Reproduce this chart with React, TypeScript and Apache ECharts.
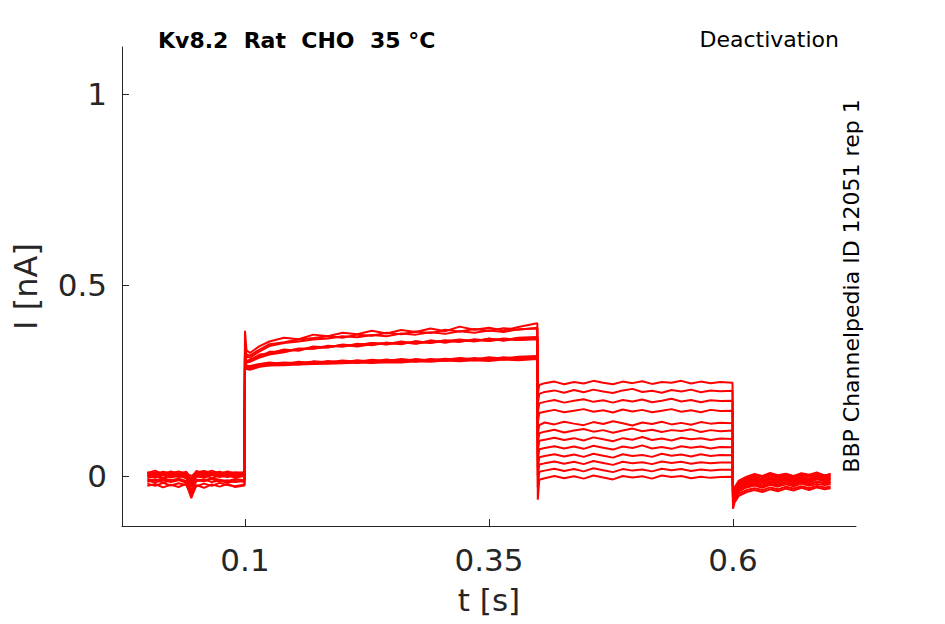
import React, { useEffect, useRef } from "react";
import * as echarts from "echarts";

// time samples (s) per protocol segment
const T_HOLD = [0, 0.008, 0.016, 0.024, 0.032, 0.04, 0.045, 0.05, 0.058, 0.066, 0.074, 0.082, 0.09, 0.0995];
const T_ACT = [0.1, 0.1015, 0.105, 0.115, 0.125, 0.14, 0.155, 0.17, 0.185, 0.2, 0.215, 0.23, 0.245, 0.26, 0.275, 0.29, 0.305, 0.32, 0.335, 0.35, 0.365, 0.38, 0.3995];
const T_DEACT = [0.4, 0.4015, 0.407, 0.417, 0.427, 0.437, 0.447, 0.457, 0.467, 0.477, 0.487, 0.497, 0.507, 0.517, 0.527, 0.537, 0.547, 0.557, 0.567, 0.577, 0.587, 0.5995];
const T_TAIL = [0.6, 0.6015, 0.606, 0.614, 0.622, 0.63, 0.638, 0.646, 0.654, 0.662, 0.67, 0.678, 0.686, 0.694, 0.7];

// currents in pA (x 0.001 nA), one row per sweep
const HOLD = [
  [6, 2, 8, 3, 7, 1, -12, 4, 9, 3, 6, 2, 8, 5],
  [-4, 1, -6, 2, -3, 0, -20, -2, 3, -5, 1, -3, 2, -1],
  [8, 14, 5, 12, 6, 11, -8, 13, 7, 14, 6, 12, 7, 10],
  [-15, -10, -17, -12, -9, -16, -45, -11, -14, -8, -15, -11, -16, -12],
  [2, -3, 4, -1, 5, -2, -30, 3, -2, 4, 0, 5, -1, 2],
  [-20, -26, -18, -25, -19, -24, -52, -27, -20, -26, -18, -24, -27, -22],
  [10, 5, 11, 7, 12, 6, 0, 9, 13, 8, 11, 6, 10, 8],
  [-8, -12, -6, -11, -7, -13, -38, -9, -12, -6, -10, -14, -8, -11],
  [4, 9, 3, 8, 2, 7, -15, 6, 1, 8, 4, 9, 3, 6],
  [-26, -21, -30, -23, -29, -20, -58, -24, -31, -22, -28, -21, -29, -25],
  [0, -5, 2, -4, 1, -6, -25, -1, -5, 3, -3, 1, -4, 0],
  [-12, -17, -10, -16, -11, -18, -42, -14, -9, -16, -12, -18, -13, -15],
];

const ACT = [
  [380, 330, 322, 340, 352, 362, 358, 370, 366, 375, 371, 380, 373, 382, 377, 386, 379, 391, 383, 388, 381, 390, 400],
  [330, 302, 300, 316, 320, 331, 328, 339, 336, 344, 340, 348, 344, 350, 346, 355, 349, 356, 352, 360, 354, 361, 362],
  [325, 298, 305, 312, 325, 326, 334, 333, 341, 338, 346, 342, 349, 345, 353, 348, 354, 351, 358, 354, 360, 356, 360],
  [315, 285, 282, 291, 290, 296, 292, 299, 295, 300, 296, 303, 298, 304, 299, 306, 301, 307, 303, 309, 305, 310, 312],
  [345, 318, 315, 331, 345, 350, 357, 361, 366, 362, 370, 367, 375, 371, 378, 374, 383, 378, 385, 380, 387, 383, 388],
  [320, 300, 303, 318, 321, 330, 330, 337, 338, 342, 343, 348, 345, 352, 347, 351, 353, 357, 353, 359, 355, 362, 364],
  [312, 288, 288, 293, 297, 293, 299, 295, 301, 297, 303, 299, 305, 300, 306, 302, 307, 304, 309, 305, 311, 307, 310],
  [310, 282, 280, 287, 292, 291, 295, 294, 298, 296, 299, 298, 301, 300, 302, 301, 304, 303, 305, 304, 307, 305, 308],
  [335, 312, 310, 326, 340, 348, 352, 357, 360, 366, 363, 369, 366, 373, 370, 376, 372, 379, 375, 381, 377, 384, 386],
  [318, 296, 299, 310, 318, 324, 332, 334, 337, 343, 339, 345, 349, 346, 352, 349, 355, 352, 356, 353, 358, 356, 358],
  [308, 280, 278, 286, 289, 290, 292, 293, 294, 295, 297, 296, 298, 297, 300, 299, 302, 300, 303, 301, 305, 303, 306],
  [305, 284, 286, 292, 294, 297, 295, 300, 298, 302, 299, 304, 301, 306, 302, 305, 304, 309, 305, 311, 307, 312, 314],
];

const DEACT = [
  [215, 238, 243, 247, 240, 246, 242, 249, 244, 240, 247, 243, 248, 241, 246, 244, 249, 242, 247, 243, 246, 244],
  [190, 215, 220, 224, 218, 225, 219, 226, 221, 217, 224, 228, 220, 223, 218, 225, 221, 226, 219, 224, 222, 223],
  [165, 190, 194, 199, 192, 197, 201, 194, 198, 192, 199, 195, 200, 193, 197, 202, 195, 199, 193, 198, 196, 197],
  [140, 165, 168, 173, 167, 171, 175, 168, 172, 166, 174, 169, 173, 167, 171, 175, 168, 172, 167, 173, 170, 171],
  [108, 133, 140, 135, 142, 137, 133, 141, 136, 143, 138, 132, 140, 136, 142, 135, 139, 134, 141, 137, 139, 138],
  [85, 112, 116, 121, 114, 119, 123, 116, 120, 113, 119, 124, 117, 121, 115, 120, 118, 122, 115, 120, 117, 119],
  [65, 92, 95, 100, 94, 99, 93, 101, 96, 91, 99, 95, 102, 94, 98, 93, 100, 96, 99, 94, 98, 97],
  [40, 70, 73, 78, 72, 77, 71, 79, 74, 69, 77, 73, 80, 72, 76, 71, 78, 74, 77, 72, 76, 75],
  [20, 49, 52, 57, 51, 56, 50, 58, 53, 48, 57, 52, 55, 50, 58, 53, 56, 51, 57, 52, 55, 54],
  [0, 30, 33, 38, 32, 37, 31, 39, 34, 29, 37, 33, 36, 31, 38, 34, 37, 32, 36, 33, 35, 35],
  [-30, 11, 14, 19, 13, 18, 12, 20, 15, 10, 18, 14, 17, 12, 19, 15, 18, 13, 17, 14, 16, 16],
  [-62, -10, -6, 0, -6, -1, -7, 1, -4, -9, 0, -4, -1, -7, 1, -3, 0, -6, -2, -5, -3, -2],
];

const TAIL = [
  [-45, -30, -12, -2, 5, 0, 8, 2, 6, -1, 7, 3, 9, 1, 6],
  [-55, -38, -18, -8, -2, -7, 1, -5, 2, -4, 3, -2, 4, -3, 1],
  [-50, -35, -15, -5, 2, -3, 4, -2, 5, 0, 6, -1, 5, 2, 4],
  [-70, -52, -34, -24, -19, -25, -17, -22, -16, -21, -14, -20, -15, -18, -16],
  [-62, -45, -27, -17, -11, -16, -9, -14, -8, -13, -7, -12, -6, -10, -8],
  [-75, -58, -40, -30, -25, -31, -23, -28, -22, -27, -20, -26, -21, -24, -22],
  [-58, -42, -22, -12, -6, -11, -4, -9, -2, -8, -1, -7, 0, -5, -3],
  [-80, -64, -46, -37, -32, -37, -30, -35, -28, -33, -27, -32, -26, -30, -28],
  [-60, -44, -25, -15, -10, -14, -7, -12, -5, -11, -4, -10, -3, -8, -6],
  [-86, -70, -52, -42, -37, -42, -35, -40, -33, -38, -31, -37, -30, -35, -32],
  [-72, -56, -37, -27, -22, -27, -19, -25, -17, -23, -16, -22, -15, -20, -18],
  [-66, -50, -31, -21, -15, -20, -13, -18, -11, -17, -10, -16, -9, -14, -12],
];

const X_TICKS = [0.1, 0.35, 0.6];
const Y_TICKS = [0, 0.5, 1];
const TITLE = "Kv8.2  Rat  CHO  35 °C";
const PROTOCOL = "Deactivation";
const SIDE_NOTE = "BBP Channelpedia ID 12051 rep 1";

const FONT = '"DejaVu Sans", "Noto Sans", sans-serif';
const AXIS_COLOR = "#262626";

export default function App() {
  const ref = useRef<HTMLDivElement>(null);

  useEffect(() => {
    const chart = echarts.init(ref.current!, null, { renderer: "svg" });
    const T = [...T_HOLD, ...T_ACT, ...T_DEACT, ...T_TAIL];
    const series = HOLD.map((_, k) => {
      const Y = [...HOLD[k], ...ACT[k], ...DEACT[k], ...TAIL[k]];
      return {
        type: "line",
        data: T.map((t, i) => [t, Y[i] / 1000]),
        showSymbol: false,
        symbol: "none",
        silent: true,
        lineStyle: { color: "#ff0000", width: 2 },
        z: 2,
      };
    });

    chart.setOption({
      animation: false,
      textStyle: { fontFamily: FONT },
      grid: { left: 122, top: 47, width: 734, height: 479, containLabel: false },
      xAxis: {
        type: "value",
        min: -0.026,
        max: 0.726,
        name: "t [s]",
        nameLocation: "middle",
        nameGap: 58,
        nameTextStyle: { fontSize: 31, color: AXIS_COLOR, fontFamily: FONT },
        axisLine: { show: true, onZero: false, lineStyle: { color: AXIS_COLOR, width: 1 } },
        axisTick: { show: true, inside: true, length: 7, customValues: X_TICKS, lineStyle: { color: AXIS_COLOR } },
        axisLabel: {
          customValues: X_TICKS,
          fontSize: 31,
          color: AXIS_COLOR,
          fontFamily: FONT,
          margin: 18,
          formatter: (v: number) => String(v),
        },
        splitLine: { show: false },
      },
      yAxis: {
        type: "value",
        min: -0.131,
        max: 1.123,
        name: "I [nA]",
        nameLocation: "middle",
        nameGap: 80,
        nameRotate: 90,
        nameTextStyle: { fontSize: 32, color: AXIS_COLOR, fontFamily: FONT },
        axisLine: { show: true, onZero: false, lineStyle: { color: AXIS_COLOR, width: 1 } },
        axisTick: { show: true, inside: true, length: 7, customValues: Y_TICKS, lineStyle: { color: AXIS_COLOR } },
        axisLabel: {
          customValues: Y_TICKS,
          fontSize: 31,
          color: AXIS_COLOR,
          fontFamily: FONT,
          margin: 15,
          formatter: (v: number) => String(v),
        },
        splitLine: { show: false },
      },
      graphic: [
        {
          type: "text",
          x: 158,
          y: 40,
          style: {
            text: TITLE,
            font: `bold 22px ${FONT}`,
            fill: "#000",
            align: "left",
            verticalAlign: "middle",
          },
        },
        {
          type: "text",
          x: 839,
          y: 39,
          style: {
            text: PROTOCOL,
            font: `22px ${FONT}`,
            fill: "#000",
            align: "right",
            verticalAlign: "middle",
          },
        },
        {
          type: "text",
          x: 851,
          y: 286,
          rotation: Math.PI / 2,
          style: {
            text: SIDE_NOTE,
            font: `22px ${FONT}`,
            fill: "#000",
            align: "center",
            verticalAlign: "middle",
          },
        },
      ],
      series,
    });

    return () => chart.dispose();
  }, []);

  return (
    <div
      ref={ref}
      style={{ position: "absolute", left: 0, top: 0, width: 945, height: 624, background: "#fff" }}
    />
  );
}
